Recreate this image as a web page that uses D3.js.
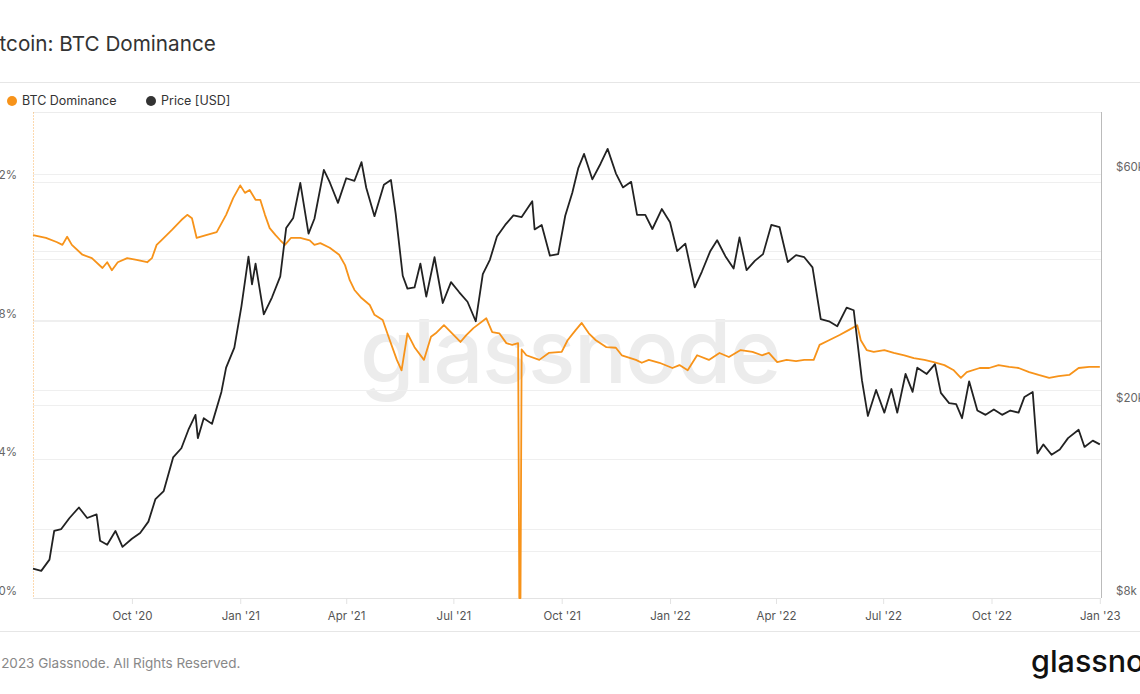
<!DOCTYPE html>
<html>
<head>
<meta charset="utf-8">
<script src="https://cdn.jsdelivr.net/npm/d3@7"></script>
<style>
  html, body { margin: 0; padding: 0; background: #fff; overflow: hidden; }
  svg { display: block; font-family: Inter, "Noto Sans", sans-serif; }
</style>
</head>
<body>
<script>
// BTC dominance [%]
const dominance = [
  ['2020-07-09', 62.8], ['2020-07-20', 62.3], ['2020-07-29', 61.6], ['2020-08-03', 61.1],
  ['2020-08-07', 62.5], ['2020-08-11', 61.1], ['2020-08-20', 59.4], ['2020-08-28', 58.8],
  ['2020-09-06', 57.1], ['2020-09-10', 58.1], ['2020-09-14', 56.7], ['2020-09-19', 58.1],
  ['2020-09-27', 58.8], ['2020-10-05', 58.5], ['2020-10-14', 58.1], ['2020-10-18', 58.8],
  ['2020-10-22', 61.1], ['2020-10-26', 61.9], ['2020-11-04', 63.7], ['2020-11-12', 65.4],
  ['2020-11-17', 66.3], ['2020-11-21', 65.7], ['2020-11-25', 62.3], ['2020-12-03', 62.8],
  ['2020-12-12', 63.3], ['2020-12-20', 66.3], ['2020-12-26', 69.2], ['2021-01-01', 71.4],
  ['2021-01-05', 70.1], ['2021-01-09', 70.6], ['2021-01-14', 68.9], ['2021-01-18', 68.9],
  ['2021-01-22', 66.3], ['2021-01-26', 64.0], ['2021-01-31', 62.8], ['2021-02-04', 61.9],
  ['2021-02-08', 61.1], ['2021-02-13', 62.3], ['2021-02-21', 62.3], ['2021-03-01', 61.9],
  ['2021-03-05', 61.1], ['2021-03-10', 61.4], ['2021-03-18', 60.6], ['2021-03-26', 59.4],
  ['2021-03-31', 57.6], ['2021-04-04', 55.0], ['2021-04-08', 53.3], ['2021-04-14', 51.9],
  ['2021-04-21', 50.7], ['2021-04-25', 49.0], ['2021-05-02', 48.1], ['2021-05-08', 44.6],
  ['2021-05-14', 41.2], ['2021-05-18', 39.4], ['2021-05-23', 45.8], ['2021-05-29', 43.4],
  ['2021-06-06', 41.2], ['2021-06-12', 45.2], ['2021-06-16', 45.8], ['2021-06-23', 47.2],
  ['2021-06-27', 46.4], ['2021-07-07', 44.3], ['2021-07-12', 45.5], ['2021-07-18', 46.7],
  ['2021-07-29', 48.4], ['2021-08-03', 46.0], ['2021-08-09', 45.8], ['2021-08-15', 44.1],
  ['2021-08-20', 43.8], ['2021-08-25', 44.1], ['2021-08-26', 0], ['2021-08-27', 0],
  ['2021-08-28', 43.0], ['2021-09-01', 42.0], ['2021-09-12', 41.2], ['2021-09-20', 42.4],
  ['2021-10-01', 42.6], ['2021-10-06', 44.6], ['2021-10-13', 46.4], ['2021-10-18', 47.6],
  ['2021-10-24', 45.8], ['2021-10-30', 44.6], ['2021-11-08', 43.4], ['2021-11-16', 43.3],
  ['2021-11-21', 42.0], ['2021-12-03', 41.2], ['2021-12-08', 40.7], ['2021-12-14', 41.2],
  ['2021-12-23', 40.7], ['2022-01-03', 39.8], ['2022-01-09', 40.3], ['2022-01-16', 39.4],
  ['2022-01-24', 42.0], ['2022-02-03', 41.2], ['2022-02-12', 42.4], ['2022-02-20', 41.7],
  ['2022-03-02', 42.9], ['2022-03-12', 42.6], ['2022-03-20', 42.0], ['2022-03-26', 42.4],
  ['2022-04-02', 40.8], ['2022-04-10', 41.2], ['2022-04-18', 41.0], ['2022-04-25', 41.2],
  ['2022-05-03', 41.2], ['2022-05-08', 43.8], ['2022-05-16', 44.6], ['2022-05-25', 45.5],
  ['2022-06-02', 46.4], ['2022-06-09', 47.2], ['2022-06-12', 44.6], ['2022-06-17', 42.9],
  ['2022-06-23', 42.6], ['2022-07-02', 42.9], ['2022-07-10', 42.4], ['2022-07-19', 42.0],
  ['2022-07-27', 41.5], ['2022-08-05', 41.2], ['2022-08-13', 40.8], ['2022-08-22', 40.3],
  ['2022-08-30', 39.4], ['2022-09-05', 38.1], ['2022-09-10', 39.1], ['2022-09-21', 39.8],
  ['2022-09-29', 39.8], ['2022-10-07', 40.3], ['2022-10-16', 40.0], ['2022-10-24', 39.8],
  ['2022-11-02', 39.1], ['2022-11-10', 38.6], ['2022-11-19', 38.1], ['2022-11-27', 38.4],
  ['2022-12-06', 38.6], ['2022-12-14', 39.8], ['2022-12-23', 40.0], ['2023-01-01', 40.0]
];

// BTC price [USD thousands]
const price = [
  ['2020-07-09', 9.2], ['2020-07-16', 9.1], ['2020-07-23', 9.6], ['2020-07-27', 11.0],
  ['2020-08-02', 11.1], ['2020-08-09', 11.7], ['2020-08-17', 12.3], ['2020-08-24', 11.7],
  ['2020-09-01', 11.9], ['2020-09-04', 10.5], ['2020-09-10', 10.3], ['2020-09-17', 11.0],
  ['2020-09-23', 10.2], ['2020-10-01', 10.6], ['2020-10-08', 10.9], ['2020-10-15', 11.5],
  ['2020-10-21', 12.8], ['2020-10-28', 13.3], ['2020-11-05', 15.6], ['2020-11-12', 16.3],
  ['2020-11-18', 17.8], ['2020-11-24', 19.1], ['2020-11-26', 17.1], ['2020-12-01', 18.8],
  ['2020-12-08', 18.3], ['2020-12-16', 21.3], ['2020-12-20', 23.9], ['2020-12-27', 26.3],
  ['2021-01-02', 32.0], ['2021-01-08', 40.5], ['2021-01-11', 35.5], ['2021-01-14', 39.2],
  ['2021-01-21', 30.8], ['2021-01-28', 33.4], ['2021-02-04', 36.9], ['2021-02-09', 46.4],
  ['2021-02-15', 48.7], ['2021-02-21', 57.5], ['2021-02-28', 45.2], ['2021-03-05', 48.5],
  ['2021-03-13', 61.2], ['2021-03-18', 57.7], ['2021-03-25', 52.3], ['2021-04-01', 58.8],
  ['2021-04-08', 58.1], ['2021-04-14', 63.5], ['2021-04-18', 56.2], ['2021-04-25', 49.1],
  ['2021-05-03', 57.0], ['2021-05-09', 58.3], ['2021-05-13', 49.7], ['2021-05-19', 37.0],
  ['2021-05-23', 34.8], ['2021-05-29', 35.0], ['2021-06-03', 39.2], ['2021-06-08', 33.5],
  ['2021-06-15', 40.4], ['2021-06-22', 32.5], ['2021-06-29', 35.9], ['2021-07-06', 34.2],
  ['2021-07-13', 32.7], ['2021-07-20', 29.8], ['2021-07-26', 37.3], ['2021-08-01', 39.9],
  ['2021-08-07', 44.6], ['2021-08-14', 47.1], ['2021-08-21', 49.3], ['2021-08-28', 48.9],
  ['2021-09-06', 52.7], ['2021-09-08', 46.1], ['2021-09-14', 47.1], ['2021-09-21', 40.7],
  ['2021-09-28', 41.0], ['2021-10-04', 49.2], ['2021-10-10', 54.9], ['2021-10-15', 61.6],
  ['2021-10-20', 66.0], ['2021-10-27', 58.5], ['2021-11-03', 63.0], ['2021-11-09', 67.6],
  ['2021-11-16', 60.2], ['2021-11-22', 56.3], ['2021-11-29', 57.8], ['2021-12-04', 49.4],
  ['2021-12-11', 49.4], ['2021-12-17', 46.2], ['2021-12-25', 50.8], ['2022-01-01', 47.7],
  ['2022-01-07', 41.6], ['2022-01-14', 43.1], ['2022-01-22', 35.0], ['2022-01-28', 37.7],
  ['2022-02-04', 41.5], ['2022-02-10', 43.8], ['2022-02-17', 40.6], ['2022-02-24', 38.3],
  ['2022-03-01', 44.4], ['2022-03-07', 38.0], ['2022-03-14', 39.7], ['2022-03-21', 41.0],
  ['2022-03-28', 47.1], ['2022-04-04', 46.6], ['2022-04-11', 39.5], ['2022-04-18', 40.8],
  ['2022-04-25', 40.4], ['2022-05-02', 38.5], ['2022-05-09', 30.1], ['2022-05-16', 29.8],
  ['2022-05-23', 29.1], ['2022-05-31', 31.8], ['2022-06-06', 31.4], ['2022-06-13', 22.5],
  ['2022-06-18', 19.0], ['2022-06-25', 21.5], ['2022-07-02', 19.3], ['2022-07-08', 21.6],
  ['2022-07-13', 19.3], ['2022-07-20', 23.2], ['2022-07-26', 21.3], ['2022-07-30', 23.9],
  ['2022-08-07', 23.2], ['2022-08-14', 24.3], ['2022-08-19', 21.2], ['2022-08-26', 20.2],
  ['2022-09-01', 20.1], ['2022-09-06', 18.8], ['2022-09-12', 22.4], ['2022-09-19', 19.5],
  ['2022-09-26', 19.1], ['2022-10-03', 19.6], ['2022-10-10', 19.1], ['2022-10-17', 19.5],
  ['2022-10-24', 19.3], ['2022-10-29', 20.8], ['2022-11-05', 21.3], ['2022-11-09', 15.9],
  ['2022-11-14', 16.6], ['2022-11-21', 15.8], ['2022-11-28', 16.2], ['2022-12-05', 17.1],
  ['2022-12-14', 17.8], ['2022-12-19', 16.4], ['2022-12-26', 16.9], ['2023-01-01', 16.6]
];

const domTicks = [0, 24, 48, 72];
const domGrid = [0, 12, 24, 36, 48, 60, 72];
const priceTicks = [8000, 20000, 60000];
const priceGrid = [10000, 20000, 30000, 40000, 60000];

const width = 1140;
const height = 694;
const plotLeft = 33;
const plotRight = 1101;
const plotTop = 112;
const plotBottom = 598;

const parse = d3.utcParse('%Y-%m-%d');

const x = d3.scaleUtc()
  .domain([parse('2020-07-09'), parse('2023-01-02')])
  .range([plotLeft, plotRight]);

// left axis: 0..72% spans three steps of ~138.7px
const yDom = d3.scaleLinear().domain([0, 72]).range([plotBottom, plotBottom - 3 * 138.7]);
// right axis: log scale for price
const yPrice = d3.scaleLog().domain([8000, 60000]).range([plotBottom, 174]);

const svg = d3.select('body').append('svg')
  .attr('width', width)
  .attr('height', height);

// title
svg.append('text')
  .attr('x', -19).attr('y', 51)
  .attr('font-size', 20.7).attr('fill', '#333')
  .text('Bitcoin: BTC Dominance');

svg.append('line')
  .attr('x1', 0).attr('x2', width).attr('y1', 82.5).attr('y2', 82.5)
  .attr('stroke', '#e6e6e6');

// legend
const legend = [
  { name: 'BTC Dominance', color: '#f7931a', x: 12 },
  { name: 'Price [USD]', color: '#333', x: 151 }
];
const lg = svg.append('g').selectAll('g').data(legend).join('g')
  .attr('transform', (d) => `translate(${d.x},101)`);
lg.append('circle').attr('r', 5).attr('fill', (d) => d.color);
lg.append('text')
  .attr('x', 10).attr('dy', '0.35em')
  .attr('font-size', 12.5).attr('fill', '#333')
  .text((d) => d.name);

// watermark
svg.append('text')
  .attr('x', 570).attr('y', 383)
  .attr('text-anchor', 'middle')
  .attr('font-size', 88).attr('font-weight', 500)
  .attr('fill', '#ececec')
  .attr('letter-spacing', -1.5)
  .text('glassnode');

// grid
const grid = svg.append('g').attr('stroke', '#efefef').attr('stroke-width', 1);
grid.selectAll('line.gd').data(domGrid).join('line')
  .attr('class', 'gd')
  .attr('x1', plotLeft).attr('x2', plotRight)
  .attr('y1', (d) => Math.round(yDom(d)) + 0.5).attr('y2', (d) => Math.round(yDom(d)) + 0.5);
grid.selectAll('line.gp').data(priceGrid).join('line')
  .attr('class', 'gp')
  .attr('x1', plotLeft).attr('x2', plotRight)
  .attr('y1', (d) => Math.round(yPrice(d)) + 0.5).attr('y2', (d) => Math.round(yPrice(d)) + 0.5);

// frame
svg.append('line')
  .attr('x1', plotLeft).attr('x2', plotRight).attr('y1', plotTop + 0.5).attr('y2', plotTop + 0.5)
  .attr('stroke', '#ececec');
svg.append('line')
  .attr('x1', plotLeft).attr('x2', plotRight).attr('y1', plotBottom + 0.5).attr('y2', plotBottom + 0.5)
  .attr('stroke', '#e3e3e3');
svg.append('line')
  .attr('x1', plotLeft + 0.5).attr('x2', plotLeft + 0.5).attr('y1', plotTop).attr('y2', plotBottom)
  .attr('stroke', '#f7931a').attr('stroke-opacity', 0.35).attr('stroke-dasharray', '2,1');
svg.append('line')
  .attr('x1', plotRight + 0.5).attr('x2', plotRight + 0.5).attr('y1', plotTop).attr('y2', plotBottom)
  .attr('stroke', '#bbb');

// x axis
const monthFmt = d3.utcFormat('%b');
const yearFmt = d3.utcFormat('%y');
const xTicks = d3.utcMonth.every(3).range(parse('2020-10-01'), parse('2023-01-02'));
const xAxis = svg.append('g')
  .attr('transform', `translate(0,${plotBottom})`)
  .call(d3.axisBottom(x).tickValues(xTicks).tickSize(6).tickPadding(8)
    .tickFormat((d) => `${monthFmt(d)} '${yearFmt(d)}`));
xAxis.select('.domain').remove();
xAxis.selectAll('line').attr('stroke', '#e3e3e3');
xAxis.selectAll('text').attr('font-size', 11.5).attr('fill', '#555')
  .attr('font-family', 'Inter, "Noto Sans", sans-serif');

// y labels
svg.append('g').selectAll('text').data(domTicks).join('text')
  .attr('x', 17).attr('y', (d) => yDom(d) - 7)
  .attr('dy', '0.35em').attr('text-anchor', 'end')
  .attr('font-size', 11.5).attr('fill', '#666')
  .text((d) => `${d}%`);

svg.append('g').selectAll('text').data(priceTicks).join('text')
  .attr('x', 1116).attr('y', (d) => yPrice(d) - 7)
  .attr('dy', '0.35em')
  .attr('font-size', 11.5).attr('fill', '#666')
  .text((d) => `$${d / 1000}k`);

// lines
const domLine = d3.line()
  .x((d) => x(parse(d[0])))
  .y((d) => yDom(d[1]));
const priceLine = d3.line()
  .x((d) => x(parse(d[0])))
  .y((d) => yPrice(d[1] * 1000));

svg.append('path').datum(dominance)
  .attr('d', domLine)
  .attr('fill', 'none').attr('stroke', '#f7931a').attr('stroke-width', 1.8)
  .attr('stroke-linejoin', 'round');

svg.append('path').datum(price)
  .attr('d', priceLine)
  .attr('fill', 'none').attr('stroke', '#222').attr('stroke-width', 1.8)
  .attr('stroke-linejoin', 'round');

// footer
svg.append('line')
  .attr('x1', 0).attr('x2', width).attr('y1', 631.5).attr('y2', 631.5)
  .attr('stroke', '#e6e6e6');

svg.append('text')
  .attr('x', -15).attr('y', 668)
  .attr('font-size', 13.5).attr('fill', '#888')
  .text('© 2023 Glassnode. All Rights Reserved.');

svg.append('text')
  .attr('x', 1031).attr('y', 672)
  .attr('font-size', 30.5).attr('font-weight', 500).attr('fill', '#111')
  .text('glassnode');
</script>
</body>
</html>
